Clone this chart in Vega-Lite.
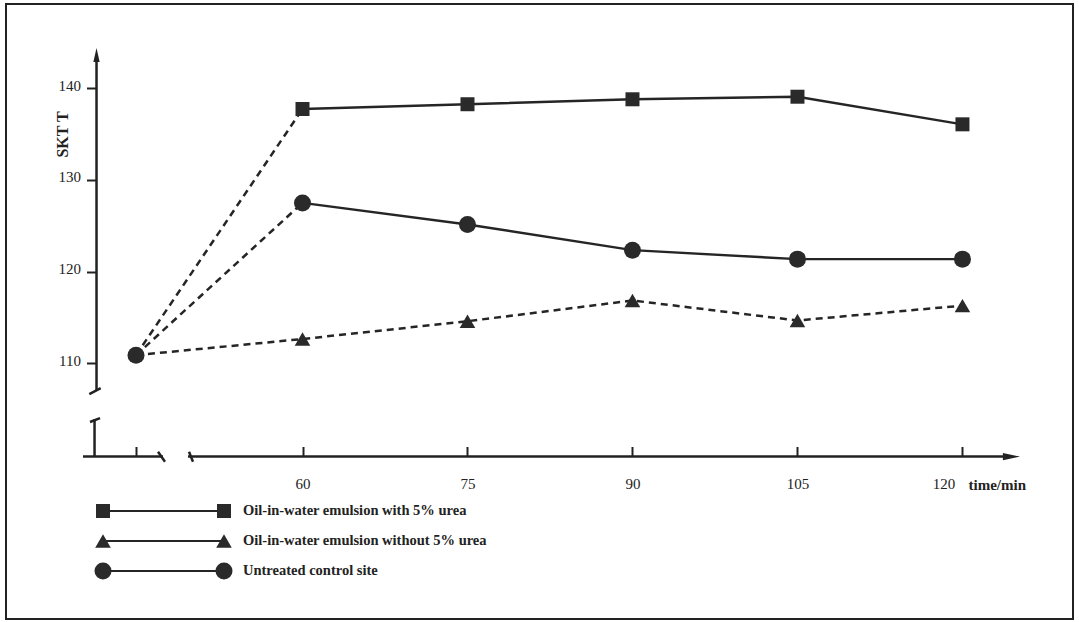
{
  "$schema": "https://vega.github.io/schema/vega-lite/v6.json",
  "width": 1067,
  "height": 615,
  "autosize": {"type": "none"},
  "padding": {"left": 6, "top": 4, "right": 6, "bottom": 3},
  "background": "white",
  "config": {
    "view": {"stroke": "#222222", "strokeWidth": 2},
    "font": "Liberation Serif",
    "text": {"font": "Liberation Serif", "color": "#222222"}
  },
  "datasets": {
    "skt": [
      {"series": "Oil-in-water emulsion with 5% urea", "time": 0, "skt": 110.9},
      {"series": "Oil-in-water emulsion with 5% urea", "time": 60, "skt": 137.74},
      {"series": "Oil-in-water emulsion with 5% urea", "time": 75, "skt": 138.26},
      {"series": "Oil-in-water emulsion with 5% urea", "time": 90, "skt": 138.8},
      {"series": "Oil-in-water emulsion with 5% urea", "time": 105, "skt": 139.08},
      {"series": "Oil-in-water emulsion with 5% urea", "time": 120, "skt": 136.07},
      {"series": "Oil-in-water emulsion without 5% urea", "time": 0, "skt": 110.9},
      {"series": "Oil-in-water emulsion without 5% urea", "time": 60, "skt": 112.66},
      {"series": "Oil-in-water emulsion without 5% urea", "time": 75, "skt": 114.6},
      {"series": "Oil-in-water emulsion without 5% urea", "time": 90, "skt": 116.86},
      {"series": "Oil-in-water emulsion without 5% urea", "time": 105, "skt": 114.68},
      {"series": "Oil-in-water emulsion without 5% urea", "time": 120, "skt": 116.3},
      {"series": "Untreated control site", "time": 0, "skt": 110.9},
      {"series": "Untreated control site", "time": 60, "skt": 127.5},
      {"series": "Untreated control site", "time": 75, "skt": 125.15},
      {"series": "Untreated control site", "time": 90, "skt": 122.35},
      {"series": "Untreated control site", "time": 105, "skt": 121.37},
      {"series": "Untreated control site", "time": 120, "skt": 121.37}
    ],
    "legend": [
      {"series": "Oil-in-water emulsion with 5% urea"},
      {"series": "Oil-in-water emulsion without 5% urea"},
      {"series": "Untreated control site"}
    ],
    "one": [{"k": 1}]
  },
  "layer": [
    {
      "layer": [
        {
          "data": {"name": "skt"},
          "encoding": {
            "x": {
              "field": "time",
              "type": "quantitative",
              "scale": {"domain": [-11.82, 0, 60, 130.05], "range": [0, 130, 296.5, 1067], "nice": false, "zero": false},
              "axis": {
                "values": [0, 60, 75, 90, 105, 120],
                "labelExpr": "datum.value == 0 ? '' : datum.label",
                "domain": false,
                "grid": false,
                "offset": -162.5,
                "tickSize": -10,
                "tickWidth": 2,
                "tickColor": "#222222",
                "labelFont": "Liberation Serif",
                "labelFontSize": 15,
                "labelColor": "#222222",
                "labelPadding": 30,
                "labelOffset": {"condition": {"test": "datum.value == 120", "value": -19}, "value": 0},
                "title": "time/min",
                "titleFont": "Liberation Serif",
                "titleFontSize": 15,
                "titleFontWeight": "bold",
                "titleColor": "#222222",
                "titleX": 962,
                "titleY": 28,
                "titleAlign": "left",
                "titleBaseline": "middle",
                "titleAngle": 0
              }
            },
            "y": {
              "field": "skt",
              "type": "quantitative",
              "scale": {"domain": [82.13, 149.19], "nice": false, "zero": false},
              "axis": {
                "values": [110, 120, 130, 140],
                "domain": false,
                "grid": false,
                "offset": -90.5,
                "tickSize": 10,
                "tickWidth": 2,
                "tickColor": "#222222",
                "labelFont": "Liberation Serif",
                "labelFontSize": 15,
                "labelColor": "#222222",
                "labelPadding": 6,
                "labelOffset": -3,
                "title": "SKT T",
                "titleFont": "Liberation Serif",
                "titleFontSize": 16,
                "titleFontWeight": "bold",
                "titleColor": "#222222",
                "titleAngle": 270,
                "titleX": -34,
                "titleY": 130,
                "titleAlign": "center",
                "titleBaseline": "middle"
              }
            }
          },
          "layer": [
            {
              "transform": [{"filter": "datum.series == 'Oil-in-water emulsion without 5% urea' || datum.time <= 60"}],
              "mark": {"type": "line", "color": "#252525", "strokeWidth": 2.5, "strokeDash": [7, 5]},
              "encoding": {"detail": {"field": "series"}}
            },
            {
              "transform": [{"filter": "datum.series != 'Oil-in-water emulsion without 5% urea' && datum.time >= 60"}],
              "mark": {"type": "line", "color": "#252525", "strokeWidth": 2.4},
              "encoding": {"detail": {"field": "series"}}
            },
            {
              "transform": [{"filter": "datum.time > 0 || datum.series == 'Untreated control site'"}],
              "mark": {"type": "point", "filled": true, "opacity": 1, "color": "#2a2a2a"},
              "encoding": {
                "shape": {"field": "series", "type": "nominal", "scale": {"domain": ["Oil-in-water emulsion with 5% urea", "Oil-in-water emulsion without 5% urea", "Untreated control site"], "range": ["square", "triangle-up", "circle"]}, "legend": null},
                "size": {"field": "series", "type": "nominal", "scale": {"domain": ["Oil-in-water emulsion with 5% urea", "Oil-in-water emulsion without 5% urea", "Untreated control site"], "range": [196, 289, 256]}, "legend": null}
              }
            }
          ]
        },
        {
          "data": {"name": "one"},
          "mark": {"type": "rule", "color": "#222222", "strokeWidth": 2.5},
          "encoding": {"x": {"datum": -3.59, "type": "quantitative"}, "y": {"datum": 143.6, "type": "quantitative"}, "x2": {"datum": -3.59}, "y2": {"datum": 106.99}}
        },
        {
          "data": {"name": "one"},
          "mark": {"type": "rule", "color": "#222222", "strokeWidth": 2.5},
          "encoding": {"x": {"datum": -4.245, "type": "quantitative"}, "y": {"datum": 106.66, "type": "quantitative"}, "x2": {"datum": -3.209}, "y2": {"datum": 107.31}}
        },
        {
          "data": {"name": "one"},
          "mark": {"type": "rule", "color": "#222222", "strokeWidth": 2.5},
          "encoding": {"x": {"datum": -3.77, "type": "quantitative"}, "y": {"datum": 103.93, "type": "quantitative"}, "x2": {"datum": -3.77}, "y2": {"datum": 99.84}}
        },
        {
          "data": {"name": "one"},
          "mark": {"type": "rule", "color": "#222222", "strokeWidth": 2.5},
          "encoding": {"x": {"datum": -4.18, "type": "quantitative"}, "y": {"datum": 103.61, "type": "quantitative"}, "x2": {"datum": -3.27}, "y2": {"datum": 104.04}}
        },
        {
          "data": {"name": "one"},
          "mark": {"type": "rule", "color": "#222222", "strokeWidth": 2.5},
          "encoding": {"x": {"datum": -4.82, "type": "quantitative"}, "y": {"datum": 99.84, "type": "quantitative"}, "x2": {"datum": 9.73}, "y2": {"datum": 99.84}}
        },
        {
          "data": {"name": "one"},
          "mark": {"type": "rule", "color": "#222222", "strokeWidth": 2.5},
          "encoding": {"x": {"datum": 7.93, "type": "quantitative"}, "y": {"datum": 100.37, "type": "quantitative"}, "x2": {"datum": 10.45}, "y2": {"datum": 99.28}}
        },
        {
          "data": {"name": "one"},
          "mark": {"type": "rule", "color": "#222222", "strokeWidth": 2.5},
          "encoding": {"x": {"datum": 18.74, "type": "quantitative"}, "y": {"datum": 99.84, "type": "quantitative"}, "x2": {"datum": 124.45}, "y2": {"datum": 99.84}}
        },
        {
          "data": {"name": "one"},
          "mark": {"type": "rule", "color": "#222222", "strokeWidth": 2.5},
          "encoding": {"x": {"datum": 19.1, "type": "quantitative"}, "y": {"datum": 100.37, "type": "quantitative"}, "x2": {"datum": 20.54}, "y2": {"datum": 99.28}}
        },
        {
          "data": {"name": "one"},
          "mark": {"type": "point", "filled": true, "opacity": 1, "color": "#222222", "shape": "M0,-1L0.45,1L-0.45,1Z", "size": 196},
          "encoding": {"x": {"datum": -3.59, "type": "quantitative"}, "y": {"datum": 143.63, "type": "quantitative"}}
        },
        {
          "data": {"name": "one"},
          "mark": {"type": "point", "filled": true, "opacity": 1, "color": "#222222", "shape": "M1,0L-1,-0.42L-1,0.42Z", "size": 289},
          "encoding": {"x": {"datum": 124.45, "type": "quantitative"}, "y": {"datum": 99.84, "type": "quantitative"}}
        }
      ]
    },
    {
      "data": {"name": "legend"},
      "encoding": {
        "y": {
          "field": "series",
          "type": "nominal",
          "scale": {"type": "point", "domain": ["Oil-in-water emulsion with 5% urea", "Oil-in-water emulsion without 5% urea", "Untreated control site"], "range": [507, 567], "padding": 0},
          "axis": null
        }
      },
      "layer": [
        {
          "mark": {"type": "rule", "color": "#252525", "strokeWidth": 2.2},
          "encoding": {"x": {"datum": -3.0, "type": "quantitative"}, "x2": {"datum": 31.71}}
        },
        {
          "mark": {"type": "point", "filled": true, "opacity": 1, "color": "#2a2a2a"},
          "encoding": {
            "x": {"datum": -3.0, "type": "quantitative"},
            "shape": {"field": "series", "type": "nominal", "scale": {"domain": ["Oil-in-water emulsion with 5% urea", "Oil-in-water emulsion without 5% urea", "Untreated control site"], "range": ["square", "triangle-up", "circle"]}, "legend": null},
            "size": {"field": "series", "type": "nominal", "scale": {"domain": ["Oil-in-water emulsion with 5% urea", "Oil-in-water emulsion without 5% urea", "Untreated control site"], "range": [196, 289, 256]}, "legend": null}
          }
        },
        {
          "mark": {"type": "point", "filled": true, "opacity": 1, "color": "#2a2a2a"},
          "encoding": {
            "x": {"datum": 31.71, "type": "quantitative"},
            "shape": {"field": "series", "type": "nominal", "scale": {"domain": ["Oil-in-water emulsion with 5% urea", "Oil-in-water emulsion without 5% urea", "Untreated control site"], "range": ["square", "triangle-up", "circle"]}, "legend": null},
            "size": {"field": "series", "type": "nominal", "scale": {"domain": ["Oil-in-water emulsion with 5% urea", "Oil-in-water emulsion without 5% urea", "Untreated control site"], "range": [196, 289, 256]}, "legend": null}
          }
        },
        {
          "mark": {"type": "text", "align": "left", "baseline": "middle", "fontWeight": "bold", "fontSize": 14.5, "font": "Liberation Serif", "color": "#222222"},
          "encoding": {"x": {"datum": 38.56, "type": "quantitative"}, "text": {"field": "series"}}
        }
      ]
    }
  ],
  "resolve": {"scale": {"y": "independent"}}
}
